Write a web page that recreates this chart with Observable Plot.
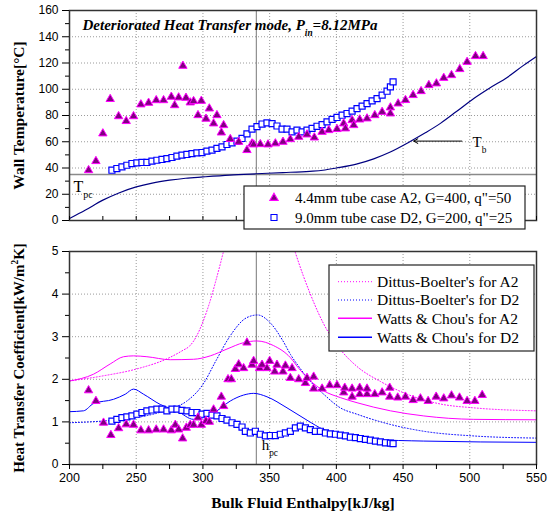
<!DOCTYPE html>
<html><head><meta charset="utf-8">
<script src="https://cdn.jsdelivr.net/npm/d3@7"></script>
<script src="https://cdn.jsdelivr.net/npm/@observablehq/plot@0.6"></script>
<style>
body{margin:0;background:#fff;}
#chart{position:relative;width:554px;height:514px;overflow:hidden;}
#chart svg{display:block;}
</style></head><body><div id="chart"></div>
<script>
// ---------- axis ticks / reference values ----------
const xMajor = [200,250,300,350,400,450,500,550];
const xMinor = [225,275,325,375,425,475,525];
const xAll = [200,225,250,275,300,325,350,375,400,425,450,475,500,525,550];
const xGrid = [250,300,350,400,450,500];
const wallTicks = [0,20,40,60,80,100,120,140,160];
const wallMinor = [10,30,50,70,90,110,130,150];
const wallGrid = [20,40,60,80,100,120,140];
const htcTicks = [0,1,2,3,4,5];
const htcMinor = [0.5,1.5,2.5,3.5,4.5];
const htcGrid = [1,2,3,4];
const hPc = 340;
const tPc = 35;

// ---------- wall temperature, A2 (4.4mm) ----------
const a2WallH = [214.3,219.8,225,230.5,236.8,242.5,248,253.5,259.3,265,270.5,276.3,278.8,281.8,285,287.3,290.5,293,296.3,298.8,302.3,304.8,308,310.5,313.8,315.5,320.5,326.8,333,336.8,338,343,348.8,354.3,360,365.5,371.8,378,383.5,389.3,394.3,400.5,405.5,406.8,411.8,413,417.5,423,428.8,434.3,440.5,440.5,446.3,451.8,457.5,463.5,469.3,475,480.5,486.3,492.5,498,504.3,510];
const a2WallT = [38.3,45.2,66.3,92.5,79.4,75.7,79.4,88.4,89.6,91.6,91.6,94.2,87.8,93.7,117.8,93.4,89.9,90.9,80.2,91.1,77.5,85.3,73.9,80.2,67,72.6,62,59.9,53.6,58.6,57.9,58.1,57.9,58.7,59.9,61.9,63.7,65.5,63.2,67.5,68.8,69.6,73.9,70.1,76.4,72.6,76.9,77.7,80.2,82.7,86.1,81.5,89.1,91.7,95.5,98.5,103.1,104.4,108.6,110.7,115.3,120.8,125.2,125.2];

// ---------- wall temperature, D2 (9.0mm) ----------
const d2WallH = [231.8,235.5,239.3,243,246.8,250.5,254.3,258,261.8,265.5,269.3,273,276.8,280.5,284.3,288,291.8,295.5,299.3,303,306.8,310.5,314.3,318,321.8,325.5,329.3,333,336.8,340.5,344.3,348,351.8,355.5,359.3,363,366.8,370.5,374.3,378,381.8,385.5,389.3,393,396.8,400.5,404.3,408,411.8,415.5,419.3,423,426.8,430.5,434.3,438,440.5,442.5];
const d2WallT = [38.3,39.6,40.8,42.1,43.4,43.9,44.2,44.2,45.2,45.9,46.5,47.2,48,49,49.8,50.3,51,51.5,51.8,52.8,53.6,54.9,56.1,57.9,59.1,60.4,62.5,66,69.6,71.5,73.5,74.4,73.8,72,69.6,69.6,67.5,68.8,67.5,68.8,70.2,71.8,73,75.1,77,78.5,80.2,81.5,83.3,85.3,87.1,89.1,91.1,92.9,95.5,98.5,101.8,105.6];

// ---------- bulk temperature T_b ----------
const tbH = [200,212,225,237,250,262,275,287,300,320,340,360,380,390,400,415,428,440,455,467,478,490,503,515,528,540,550];
const tbT = [1.5,8,15.5,21,25.6,28.5,30.7,32.2,33.2,34.6,35.6,36.5,37.5,38.3,40,43,47,52,60,67,74,83,93,101,109,118,125];

// ---------- heat transfer coefficient, A2 ----------
const a2HtcH = [214.3,219.8,225.5,231,236.8,242.5,248,253.5,259.3,265,270.5,276.3,279.3,281.8,284.8,287.5,290.5,293,296.3,298.8,302.3,304.8,308,313.8,315.5,318.8,321.3,324.3,326.8,330.5,333,336.8,338,342.5,344.3,348,350,353.8,355.5,360,361.8,365.5,366.8,371.8,376.8,378,383,383,389.3,395,400.5,405.5,406.3,411.8,411.8,417.5,417.5,423,423,428.8,434.3,440,440,446,451.8,457.5,463,468.8,474.8,480.5,486.3,492.3,498,503.8,509.3];
const a2Htc = [1.74,1.49,0.98,0.69,0.85,0.94,0.93,0.80,0.80,0.82,0.82,0.80,0.93,0.82,0.61,0.86,0.93,0.93,1.10,0.93,1.02,1.00,1.29,1.59,1.37,2.00,2.00,2.24,2.35,2.26,2.86,2.34,2.43,2.26,2.34,2.26,2.43,2.18,2.34,2.18,2.32,2.03,2.26,2.00,1.91,2.03,2.06,1.78,1.78,1.86,1.86,1.69,1.80,1.59,1.78,1.65,1.80,1.65,1.78,1.65,1.69,1.59,1.80,1.57,1.59,1.51,1.55,1.49,1.59,1.55,1.62,1.57,1.49,1.49,1.63];

// ---------- heat transfer coefficient, D2 ----------
const d2HtcH = [231.8,235.5,239.3,243,246.8,250.5,254.3,258,261.8,265.5,269.3,273,276.8,280.5,284.3,288,291.8,295.5,299.3,303,306.8,310.5,314.3,318,321.8,325.5,329.3,331.8,335.5,339.3,343,346.8,350.5,354.3,358,361.8,365.5,369.3,373,376.8,380.5,384.3,388,391.8,395.5,399.3,403,406.8,410.5,414.3,418,421.8,425.5,429.3,433,436.8,440.5,442.5];
const d2Htc = [1.02,1.06,1.10,1.12,1.14,1.18,1.22,1.26,1.28,1.30,1.30,1.26,1.30,1.30,1.27,1.26,1.22,1.22,1.18,1.20,1.16,1.14,1.08,1.04,0.98,0.94,0.88,0.78,0.74,0.78,0.71,0.67,0.68,0.68,0.71,0.74,0.78,0.86,0.90,0.86,0.82,0.78,0.78,0.74,0.72,0.71,0.69,0.67,0.64,0.63,0.61,0.59,0.57,0.55,0.53,0.51,0.50,0.49];

// ---------- correlations ----------
const dbA2H = [200,225,250,275,285,290,295,300,305,310,315,320,330,340,355,369,375,380.5,390.5,403,415.5,433,453,478,503,550];
const dbA2 = [1.96,2.08,2.24,2.51,2.68,2.78,3.0,3.35,3.8,4.35,4.95,5.6,7,8,6.5,5.0,4.45,4.0,3.3,2.7,2.3,1.95,1.65,1.42,1.33,1.26];
const dbD2H = [200,225,250,275,288,300,310,320,333,341,350,360,365.5,373,378,390.5,403,415.5,440.5,465.5,503,550];
const dbD2 = [0.98,1.02,1.10,1.30,1.49,1.88,2.45,3.0,3.45,3.51,3.34,2.90,2.59,2.25,2.04,1.65,1.33,1.18,0.94,0.78,0.67,0.62];
const wcA2H = [200,218,230.5,240.5,248,258,275.5,293,305.5,318,330.5,340.5,353,365.5,372,380,390.5,403,415.5,440.5,465.5,503,550];
const wcA2 = [1.96,2.12,2.36,2.53,2.55,2.53,2.46,2.47,2.55,2.71,2.86,2.90,2.79,2.51,2.25,1.98,1.73,1.57,1.45,1.26,1.14,1.06,1.05];
const wcD2H = [200,210.5,218,233,241.8,248,255.5,268,280.5,293,300.5,310.5,320.5,330.5,338,348,363,378,390.5,403,428,465.5,550];
const wcD2 = [1.24,1.26,1.43,1.53,1.65,1.77,1.65,1.41,1.26,1.06,1.10,1.26,1.49,1.63,1.67,1.59,1.33,1.04,0.82,0.71,0.59,0.55,0.52];

// ---------- annotations ----------
const tbArrow = [{x1: 494, y1: 60.5, x2: 458, y2: 60.5}];
const tbLabel = [{h: 502, t: 60, s: "T_{b}"}];
const tpcLabel = [{h: 203, t: 26, s: "T_{pc}"}];
const hpcLabel = [{h: 344, v: 0.46, s: "h_{pc}"}];
const legendTop = ["4.4mm tube case A2, G=400, q\"=50", "9.0mm tube case D2, G=200, q\"=25"];
const legendBottom = ["Dittus-Boelter's for A2","Dittus-Boelter's for D2","Watts & Chou's for A2","Watts & Chou's for D2"];

const cA2 = "#ff00ff", cA2fill = "#800080", cD2 = "#0000ff", cTb = "#000080";
const serif = "'Liberation Serif','Times New Roman',serif";
const sans = "'Liberation Sans',Arial,sans-serif";

const zip = (xs, ys, kx, ky) => xs.map((x, i) => ({[kx]: x, [ky]: ys[i]}));
const a2Wall = zip(a2WallH, a2WallT, "h", "t");
const d2Wall = zip(d2WallH, d2WallT, "h", "t");
const tb = zip(tbH, tbT, "h", "t");
const a2H = zip(a2HtcH, a2Htc, "h", "v");
const d2H = zip(d2HtcH, d2Htc, "h", "v");
const dbA2r = zip(dbA2H, dbA2, "h", "v");
const dbD2r = zip(dbD2H, dbD2, "h", "v");
const wcA2r = zip(wcA2H, wcA2, "h", "v");
const wcD2r = zip(wcD2H, wcD2, "h", "v");

const gridStyle = {stroke: "#9a9a9a", strokeOpacity: 1, strokeDasharray: "1,2", strokeWidth: 1};
const sq = {symbol: "square", r: 3.4, stroke: cD2, fill: "white", strokeWidth: 1.2};
const tri = {symbol: "triangle", r: 3.1, fill: cA2fill, stroke: cA2, strokeWidth: 1};
const intFmt = d => String(d);

const W = 554;
const topChart = Plot.plot({
  width: W, height: 232,
  marginLeft: 69, marginRight: 18, marginTop: 10, marginBottom: 12,
  style: {background: "white", fontFamily: sans},
  x: {domain: [200, 550], axis: null},
  y: {domain: [0, 160], axis: null},
  marks: [
    Plot.gridX(xGrid, gridStyle),
    Plot.gridY(wallGrid, gridStyle),
    Plot.ruleY([tPc], {stroke: "#8a8a8a", strokeWidth: 1.5}),
    Plot.ruleX([hPc], {stroke: "#777", strokeWidth: 1}),
    Plot.line(tb, {x: "h", y: "t", stroke: cTb, strokeWidth: 1.2, curve: "monotone-x"}),
    Plot.arrow(tbArrow, {x1: "x1", y1: "y1", x2: "x2", y2: "y2", stroke: "black", strokeWidth: 1, headLength: 7}),
    Plot.dot(d2Wall, {x: "h", y: "t", ...sq}),
    Plot.dot(a2Wall, {x: "h", y: "t", ...tri}),
    Plot.text(tbLabel, {x: "h", y: "t", text: "s", textAnchor: "start", fontSize: 15, fontFamily: serif}),
    Plot.text(tpcLabel, {x: "h", y: "t", text: "s", textAnchor: "start", fontSize: 16, fontFamily: serif}),
    Plot.text(["Deteriorated Heat Transfer mode, P_{in}=8.12MPa"], {frameAnchor: "top-left", dx: 13, dy: 15, textAnchor: "start", lineAnchor: "middle", fontSize: 15, fontWeight: "bold", fontStyle: "italic", fontFamily: serif}),
    Plot.text(["Wall Temperature[°C]"], {frameAnchor: "left", dx: -50, rotate: -90, textAnchor: "middle", lineAnchor: "middle", fontSize: 15.5, fontWeight: "bold", fontFamily: serif}),
    Plot.frame({stroke: "#333", strokeWidth: 1.5}),
    Plot.axisY({ticks: wallTicks, tickSize: 7, tickPadding: 4, fontSize: 12, label: null, fontFamily: sans, tickFormat: intFmt}),
    Plot.axisY({ticks: wallMinor, tickSize: 4, tickFormat: () => "", label: null}),
    Plot.axisX({anchor: "bottom", ticks: xAll, tickSize: -4, tickFormat: () => "", label: null})
  ]
});

const bottomChart = Plot.plot({
  width: W, height: 282,
  marginLeft: 69, marginRight: 18, marginTop: 19, marginBottom: 50,
  style: {background: "white", fontFamily: sans},
  x: {domain: [200, 550], axis: null},
  y: {domain: [0, 5], axis: null},
  marks: [
    Plot.gridX(xGrid, gridStyle),
    Plot.gridY(htcGrid, gridStyle),
    Plot.ruleX([hPc], {stroke: "#777", strokeWidth: 1}),
    Plot.line(dbA2r, {x: "h", y: "v", stroke: cA2, strokeWidth: 1, strokeDasharray: "1,2", curve: "monotone-x", clip: true}),
    Plot.line(dbD2r, {x: "h", y: "v", stroke: cD2, strokeWidth: 1, strokeDasharray: "1,2", curve: "monotone-x", clip: true}),
    Plot.line(wcA2r, {x: "h", y: "v", stroke: cA2, strokeWidth: 1, curve: "monotone-x"}),
    Plot.line(wcD2r, {x: "h", y: "v", stroke: cD2, strokeWidth: 1, curve: "monotone-x"}),
    Plot.dot(d2H, {x: "h", y: "v", ...sq}),
    Plot.dot(a2H, {x: "h", y: "v", ...tri}),
    Plot.text(hpcLabel, {x: "h", y: "v", text: "s", textAnchor: "start", fontSize: 15, fontFamily: serif}),
    Plot.text(["Heat Transfer Coefficient[kW/m^{2}K]"], {frameAnchor: "left", dx: -50, rotate: -90, textAnchor: "middle", lineAnchor: "middle", fontSize: 15, fontWeight: "bold", fontFamily: serif}),
    Plot.text(["Bulk Fluid Enthalpy[kJ/kg]"], {frameAnchor: "bottom", dy: 39, lineAnchor: "middle", fontSize: 15.5, fontWeight: "bold", fontFamily: serif}),
    Plot.frame({stroke: "#333", strokeWidth: 1.5}),
    Plot.axisY({ticks: htcTicks, tickSize: 7, tickPadding: 4, fontSize: 12, label: null, fontFamily: sans, tickFormat: intFmt}),
    Plot.axisY({ticks: htcMinor, tickSize: 4, tickFormat: () => "", label: null}),
    Plot.axisX({anchor: "bottom", ticks: xMajor, tickSize: 5, tickPadding: 4, fontSize: 12.5, label: null, fontFamily: sans, tickFormat: intFmt}),
    Plot.axisX({anchor: "bottom", ticks: xMinor, tickSize: 5, tickFormat: () => "", label: null})
  ]
});

const root = document.getElementById("chart");
root.appendChild(topChart);
root.appendChild(bottomChart);

// sub/superscript rendering for text written as X_{sub} or X^{sup}
function richText(svg) {
  d3.select(svg).selectAll("text").each(function() {
    const s = this.textContent;
    if (!/[_^]\{/.test(s)) return;
    const fs = parseFloat(getComputedStyle(this).fontSize) || 12;
    const parts = [];
    const re = /([_^])\{([^}]*)\}/g;
    let last = 0, m;
    while ((m = re.exec(s))) {
      if (m.index > last) parts.push({t: s.slice(last, m.index), k: 0});
      parts.push({t: m[2], k: m[1] === "_" ? 1 : -1});
      last = re.lastIndex;
    }
    if (last < s.length) parts.push({t: s.slice(last), k: 0});
    const el = d3.select(this);
    el.text(null);
    let cur = 0;
    for (const p of parts) {
      const target = p.k === 1 ? 0.4 * fs : p.k === -1 ? -0.4 * fs : 0;
      const ts = el.append("tspan").text(p.t).attr("dy", (target - cur) + "px");
      if (p.k !== 0) ts.attr("font-size", (0.62 * fs) + "px");
      cur = target;
    }
  });
}
richText(topChart);
richText(bottomChart);

// legends
function legendBox(svg, x, y, w, h) {
  const g = d3.select(svg).append("g").attr("text-anchor", "start");
  g.append("rect").attr("x", x).attr("y", y).attr("width", w).attr("height", h)
    .style("fill", "#ffffff").style("stroke", "#222").style("stroke-width", "1.2px");
  return g;
}
{
  const g = legendBox(topChart, 244, 186, 281, 43);
  const rows = [{y: 198, sym: d3.symbolTriangle, fill: cA2fill, stroke: cA2, r: 3.1},
                {y: 217.5, sym: d3.symbolSquare, fill: "white", stroke: cD2, r: 3.4}];
  rows.forEach((r, i) => {
    g.append("path").attr("d", d3.symbol(r.sym, r.r * r.r * Math.PI)())
      .attr("transform", `translate(274,${r.y})`).style("fill", r.fill).style("stroke", r.stroke).style("stroke-width", "1.1px");
    g.append("text").attr("x", 295).attr("y", r.y).attr("dy", "0.35em").attr("text-anchor", "start")
      .style("fill", "black").attr("font-family", serif).attr("font-size", 15).text(legendTop[i]);
  });
}
{
  const g = legendBox(bottomChart, 329, 33, 205, 86);
  const rows = [{y: 49.7, c: cA2, d: "1,2"}, {y: 68, c: cD2, d: "1,2"}, {y: 86.3, c: cA2, d: null}, {y: 105.3, c: cD2, d: null}];
  rows.forEach((r, i) => {
    const l = g.append("line").attr("x1", 338).attr("x2", 372).attr("y1", r.y).attr("y2", r.y)
      .style("stroke", r.c).style("stroke-width", r.d ? "1px" : "1.4px");
    if (r.d) l.style("stroke-dasharray", r.d);
    g.append("text").attr("x", 377).attr("y", r.y).attr("dy", "0.35em").attr("text-anchor", "start")
      .style("fill", "black").attr("font-family", serif).attr("font-size", 15.5).text(legendBottom[i]);
  });
}
</script>
</body></html>
